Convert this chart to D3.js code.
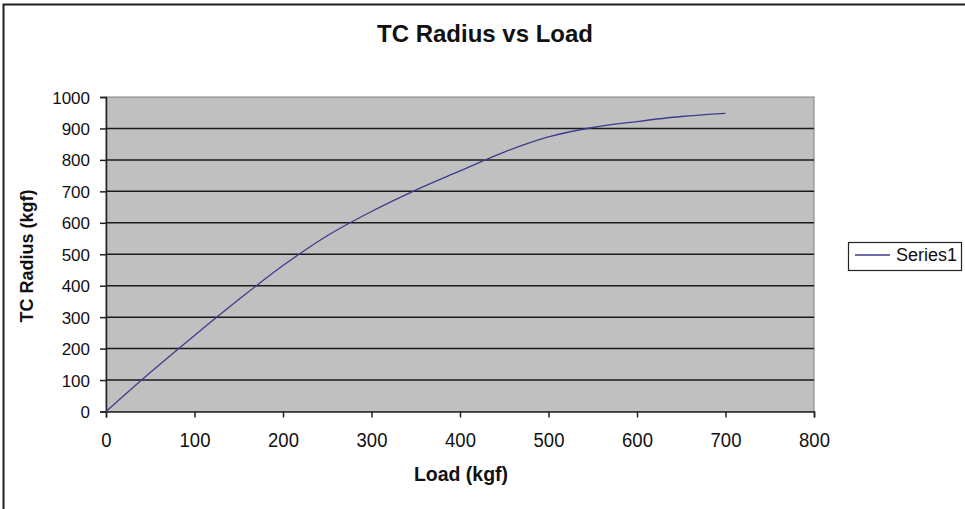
<!DOCTYPE html>
<html>
<head>
<meta charset="utf-8">
<script src="https://cdn.jsdelivr.net/npm/d3@7"></script>
<style>
  html, body { margin: 0; padding: 0; background: #fff; }
  svg { display: block; font-family: "Liberation Sans", Arial, sans-serif; }
</style>
</head>
<body>
<svg id="chart" width="965" height="509"></svg>
<script>
// Load (kgf) samples and the matching TC radius readings
const loads  = [0, 50, 100, 150, 200, 250, 300, 350, 400, 450, 500, 550, 600, 650, 700];
const radius = [0, 124, 242, 356, 464, 559, 636, 704, 765, 825, 873, 903, 922, 938, 948];
const xTicks = [0, 100, 200, 300, 400, 500, 600, 700, 800];
const yTicks = [0, 100, 200, 300, 400, 500, 600, 700, 800, 900, 1000];
const seriesName = "Series1";

const svg = d3.select("#chart");
const plot = { left: 106, top: 97, right: 814, bottom: 411.5 };

const x = d3.scaleLinear().domain([0, 800]).range([plot.left, plot.right]);
const y = d3.scaleLinear().domain([0, 1000]).range([plot.bottom, plot.top]);

// outer chart frame (top and left edges in view)
svg.append("rect")
  .attr("x", 3.5).attr("y", 4.5).attr("width", 1100).attr("height", 700)
  .attr("fill", "none").attr("stroke", "#1e1e1e").attr("stroke-width", 2);

// plot background
svg.append("rect")
  .attr("x", plot.left).attr("y", plot.top)
  .attr("width", plot.right - plot.left).attr("height", plot.bottom - plot.top)
  .attr("fill", "#c0c0c0").attr("stroke", "#808080").attr("stroke-width", 1);

// horizontal gridlines
svg.append("g").selectAll("line")
  .data(yTicks.filter(d => d > 0 && d < 1000))
  .join("line")
  .attr("x1", plot.left).attr("x2", plot.right)
  .attr("y1", d => y(d)).attr("y2", d => y(d))
  .attr("stroke", "#1a1a1a").attr("stroke-width", 1.5);

// y axis
const yAxis = svg.append("g")
  .attr("transform", `translate(${plot.left},0)`)
  .call(d3.axisLeft(y).tickValues(yTicks).tickFormat(d3.format("d")).tickSize(6).tickPadding(10));
yAxis.select(".domain").attr("stroke", "#222").attr("stroke-width", 1.5);
yAxis.selectAll(".tick line").attr("stroke", "#222").attr("stroke-width", 1.5);
yAxis.selectAll(".tick text")
  .attr("font-size", 17).attr("fill", "#111")
  .attr("dy", null).attr("x", null)
  .attr("transform", "translate(-16,6)")
  .style("font-family", "'Liberation Sans', Arial, sans-serif");

// x axis
const xAxis = svg.append("g")
  .attr("transform", `translate(0,${plot.bottom})`)
  .call(d3.axisBottom(x).tickValues(xTicks).tickFormat(d3.format("d")).tickSize(6).tickPadding(12));
xAxis.select(".domain").attr("stroke", "#222").attr("stroke-width", 1.5);
xAxis.selectAll(".tick line").attr("stroke", "#222").attr("stroke-width", 1.5);
xAxis.selectAll(".tick text")
  .attr("font-size", 18.5).attr("fill", "#111")
  .attr("dy", null).attr("y", null)
  .attr("transform", "translate(0,35.5) scale(1,1.1)")
  .style("font-family", "'Liberation Sans', Arial, sans-serif");

// data line
const line = d3.line().x((d, i) => x(loads[i])).y(d => y(d)).curve(d3.curveMonotoneX);
svg.append("path")
  .datum(radius)
  .attr("d", line)
  .attr("fill", "none")
  .attr("stroke", "#3c3c8c")
  .attr("stroke-width", 1.3);

// title
svg.append("text")
  .attr("x", 485).attr("y", 42)
  .attr("text-anchor", "middle")
  .attr("font-size", 24).attr("font-weight", "bold").attr("fill", "#111")
  .text("TC Radius vs Load");

// axis titles
svg.append("text")
  .attr("x", 461).attr("y", 481)
  .attr("text-anchor", "middle")
  .attr("font-size", 19.5).attr("font-weight", "bold").attr("fill", "#111")
  .text("Load (kgf)");

svg.append("text")
  .attr("transform", "translate(33,256) rotate(-90)")
  .attr("text-anchor", "middle")
  .attr("font-size", 18).attr("font-weight", "bold").attr("fill", "#111")
  .text("TC Radius (kgf)");

// legend
const lg = svg.append("g");
lg.append("rect")
  .attr("x", 848.5).attr("y", 242.5).attr("width", 113).attr("height", 28)
  .attr("fill", "#fff").attr("stroke", "#222").attr("stroke-width", 1.2);
lg.append("line")
  .attr("x1", 855).attr("x2", 890).attr("y1", 255).attr("y2", 255)
  .attr("stroke", "#3c3c8c").attr("stroke-width", 1.3);
lg.append("text")
  .attr("x", 896).attr("y", 261)
  .attr("font-size", 18).attr("fill", "#111")
  .text(seriesName);
</script>
</body>
</html>
